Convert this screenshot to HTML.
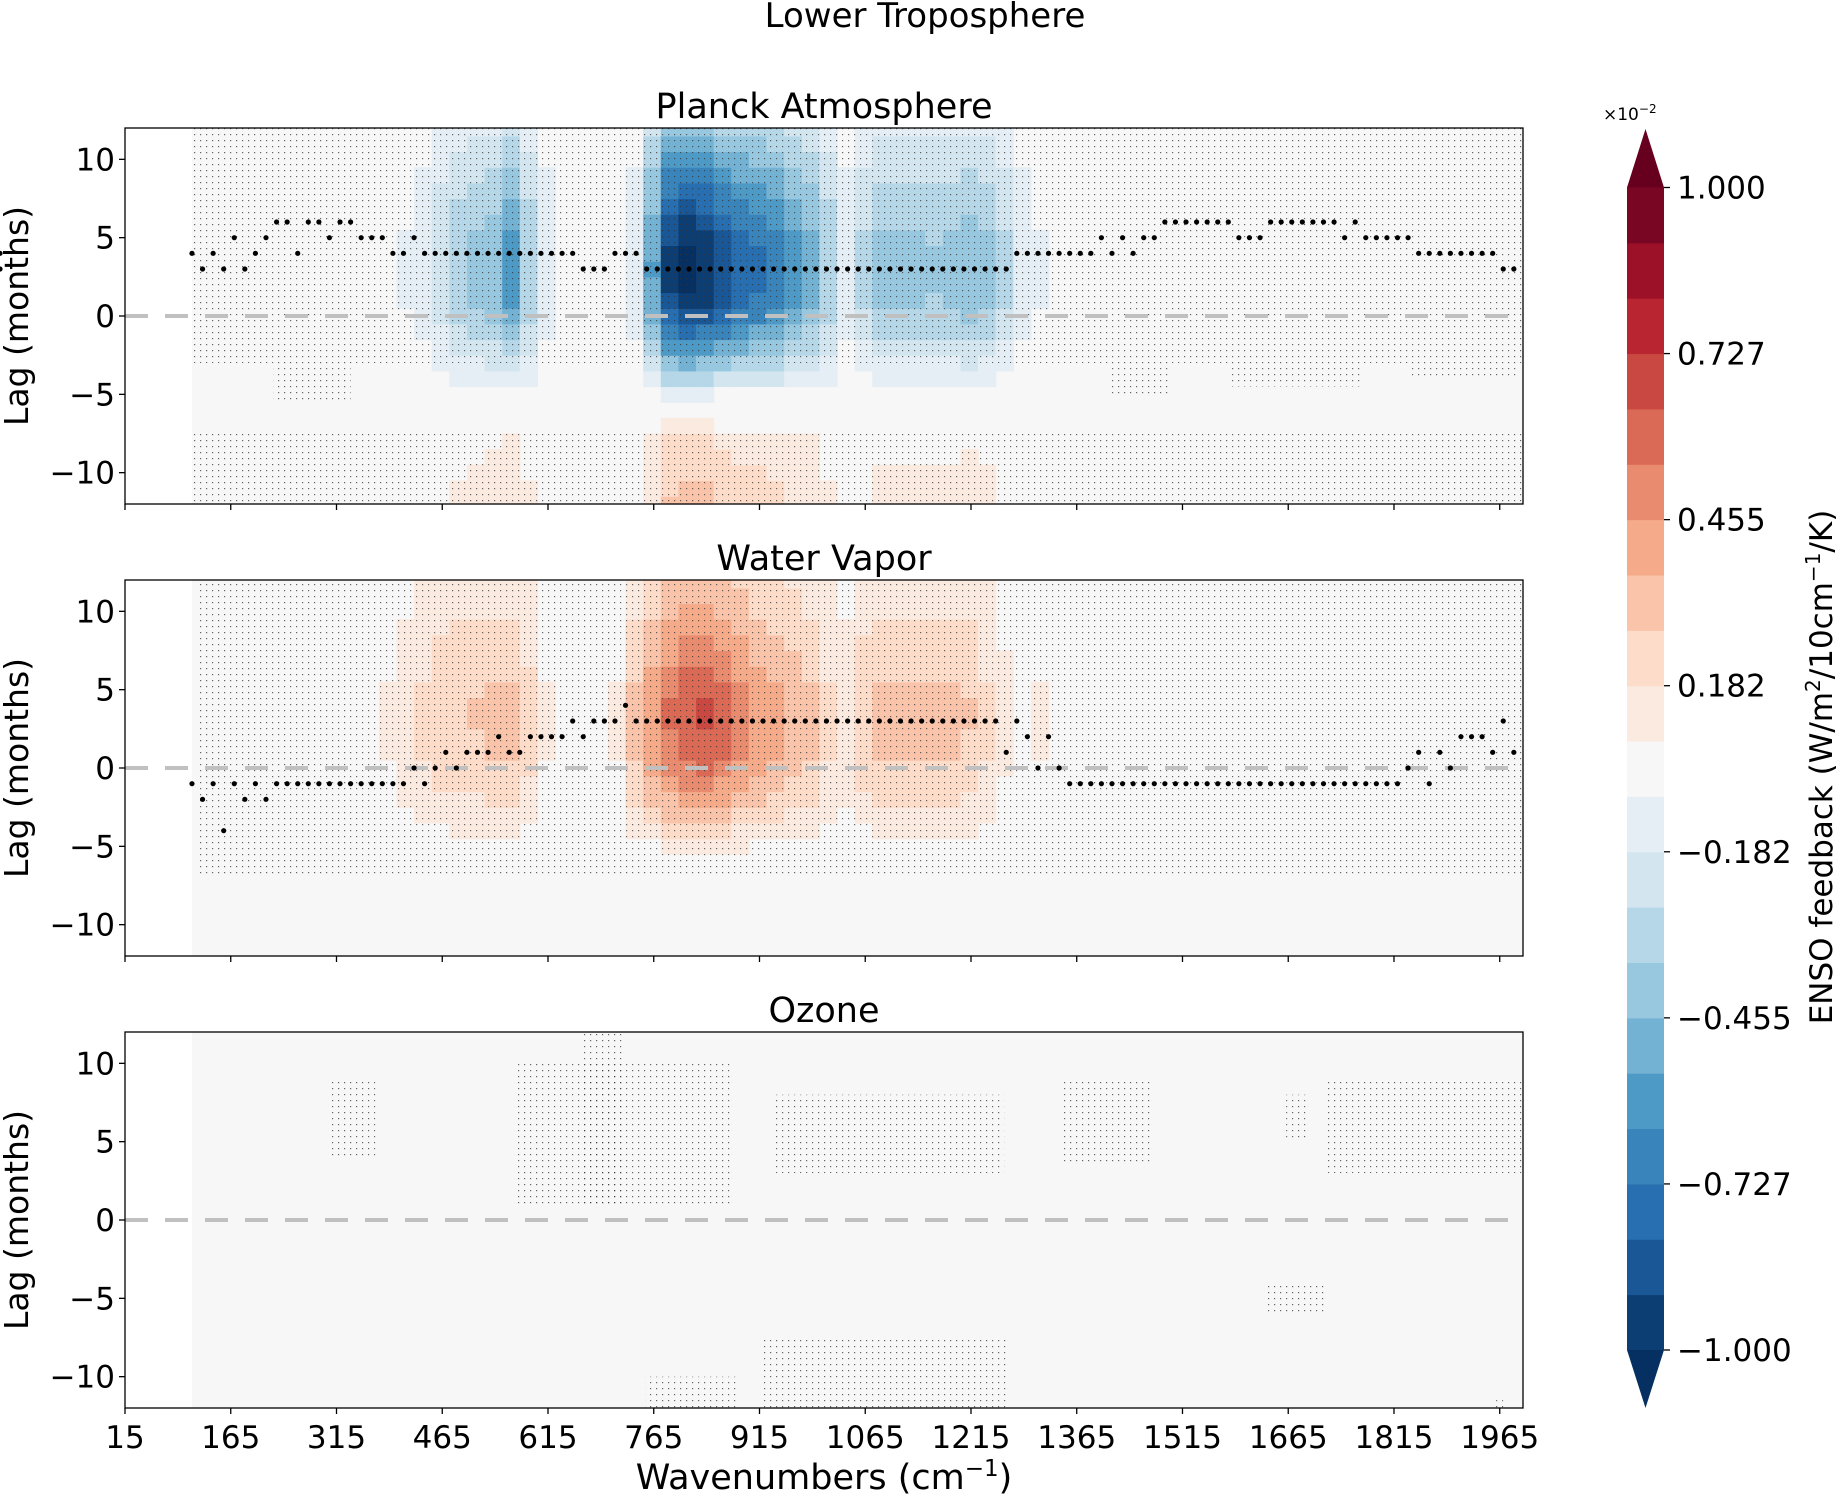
<!DOCTYPE html>
<html><head><meta charset="utf-8">
<style>
html,body{margin:0;padding:0;background:#fff;}
svg{display:block;font-family:"DejaVu Sans","Liberation Sans",sans-serif;}
</style></head>
<body>
<svg id="fig" width="1836" height="1495" viewBox="0 0 1836 1495" xmlns="http://www.w3.org/2000/svg">
<defs>
<pattern id="stip" width="6" height="6" patternUnits="userSpaceOnUse">
<rect x="2" y="2" width="1.2" height="1.2" fill="#333" opacity="0.75"/>
</pattern>
</defs>
<text x="925" y="27" font-size="34" text-anchor="middle">Lower Troposphere</text>
<g id="panels"></g>
<g id="cbar"></g>
</svg>
<script>
// ---- data ----
const specWn = [];for(let w=100;w<2000;w+=25)specWn.push(w);
const lags = [-12,-11,-10,-9,-8,-7,-6,-5,-4,-3,-2,-1,0,1,2,3,4,5,6,7,8,9,10,11,12];
const planckSpec = [0,0,0,0,0,0,0,0,0,0,0,0,-0.1,-0.15,-0.25,-0.35,-0.4,-0.45,-0.6,-0.35,-0.15,-0.05,-0.03,-0.03,-0.05,-0.15,-0.55,-0.95,-1.05,-1.0,-0.9,-0.8,-0.75,-0.7,-0.6,-0.5,-0.35,-0.15,-0.3,-0.4,-0.4,-0.4,-0.38,-0.4,-0.45,-0.4,-0.3,-0.15,-0.1,-0.05,0,0,0,0,0,0,0,0,0,0,0,0,0,0,0,0,0,0,0,0,0,0,0,0,0,0];
const planckLag = [-0.3,-0.28,-0.25,-0.22,-0.2,-0.1,0,0.1,0.3,0.45,0.6,0.72,0.85,0.92,0.97,1.0,0.98,0.95,0.88,0.8,0.75,0.68,0.6,0.5,0.4];
const wvSpec = [0,0,0,0,0,0,0,0,0,0,0.05,0.1,0.15,0.2,0.25,0.27,0.28,0.3,0.3,0.22,0.1,0.03,0.03,0.05,0.1,0.3,0.45,0.55,0.62,0.65,0.6,0.5,0.45,0.4,0.35,0.3,0.2,0.15,0.25,0.3,0.3,0.3,0.3,0.3,0.28,0.2,0.12,0.05,0.1,0.05,0,0,0,0,0,0,0,0,0,0,0,0,0,0,0,0,0,0,0,0,0,0,0,0,0,0];
const wvLag = [0,0,0,0,0,0,0.05,0.2,0.35,0.5,0.62,0.75,0.85,0.92,0.97,1.0,1.0,0.95,0.88,0.8,0.75,0.68,0.6,0.55,0.5];
const ozoneSpec = specWn.map(()=>0);
const ozoneLag = lags.map(()=>0);
const dotWn = [];for(let i=0;i<126;i++)dotWn.push(110+15*i);
const planckDots = [4,3,4,3,5,3,4,5, 6,6,4,6,6,5,6,6,5,5,5, 4,4,5,4,4,4,4,4,4,4,4,4,4,4,4,4,4,4, 3,3,3, 4,4,4,
 3,3,3,3,3,3,3,3,3,3,3,3,3,3,3,3,3,3,3,3,3,3,3,3,3,3,3,3,3,3,3,3,3,3, 3, 4,4,4,4,4,4,4,4, 5,4,5,4,5,
 5,6,6,6,6,6,6,6, 5,5,5, 6,6,6,6,6,6,6, 5,6,5, 5,5,5,5, 4,4,4,4,4,4,4,4, 3,3,3,4];
const wvDots = [-1,-2,-1,-4,-1,-2,-1,-2, -1,-1,-1,-1,-1,-1,-1,-1,-1,-1,-1,-1, -1,0,-1,0, 1,0,1,1,1,2,1, 1,2,2,2,2,3,2, 3,3,3,4,
 3,3,3,3,3,3,3,3,3,3,3,3,3,3,3,3,3,3,3,3,3,3,3,3,3,3,3,3,3,3,3,3,3,3,3, 1,3,2,0,2,0,-1,-1,
 -1,-1,-1,-1,-1,-1,-1,-1,-1,-1,-1,-1,-1,-1,-1,-1,-1,-1,-1,-1,-1,-1,-1,-1,-1,-1,-1,-1,-1,-1, 0,1,-1,1,0,2,2,2,1,3,1];
const xTicks = [15,165,315,465,615,765,915,1065,1215,1365,1515,1665,1815,1965];
const yTicks = [10,5,0,-5,-10];
const cbTicks = [1.0,0.727,0.455,0.182,-0.182,-0.455,-0.727,-1.0];

// ---- layout ----
const NS="http://www.w3.org/2000/svg";
const X0=125,X1=1523,WMIN=15,WMAX=1998,PH=376;
const xs=w=>X0+(w-WMIN)*(X1-X0)/(WMAX-WMIN);
const stops=["#053061","#2166ac","#4393c3","#92c5de","#d1e5f0","#f7f7f7","#fddbc7","#f4a582","#d6604d","#b2182b","#67001f"];
function hex(c){return [1,3,5].map(i=>parseInt(c.substr(i,2),16));}
function cmap(t){t=Math.max(0,Math.min(1,t));const p=t*10,i=Math.min(9,Math.floor(p)),f=p-i;const a=hex(stops[i]),b=hex(stops[i+1]);return "rgb("+a.map((v,k)=>Math.round(v+(b[k]-v)*f)).join(",")+")";}
const NB=21;
const bounds=[];for(let k=0;k<=10;k++)bounds.push(-1+k/11);for(let k=10;k>=0;k--)bounds.push(1-k/11);
function bandIndex(v){if(v<bounds[0])return -1;for(let k=0;k<NB;k++){if(v<bounds[k+1])return k;}return NB;}
function bandColor(v){return cmap((bandIndex(v)+0.5)/NB);}
function mk(tag,attrs,parent){const e=document.createElementNS(NS,tag);for(const k in attrs)e.setAttribute(k,attrs[k]);parent.appendChild(e);return e;}
const root=document.getElementById('panels');
const panels=[
 {title:"Planck Atmosphere",top:128,spec:planckSpec,lag:planckLag,dots:planckDots,stip:[[110,1998,12,-3],[110,1998,-7.5,-12],[225,335,-3,-5.5],[1410,1500,-3,-5],[1580,1770,-3,-4.5],[1840,1990,-3,-4]]},
 {title:"Water Vapor",top:580,spec:wvSpec,lag:wvLag,dots:wvDots,stip:[[120,1998,12,-6.8]]},
 {title:"Ozone",top:1032,spec:ozoneSpec,lag:ozoneLag,dots:null,stip:[[308,370,9,4],[570,878,10,1],[660,720,12,1],[933,1262,8,3],[1345,1473,9,3.5],[1662,1692,8,5],[1715,1998,9,3],[1633,1720,-4,-6],[753,882,-10,-12],[920,1270,-7.5,-12],[1955,1970,-11.5,-12]]}
];
panels.forEach((P,pi)=>{
 const g=mk('g',{},root);
 
 
 const ys=l=>P.top+(12-l)*PH/24;
 const bg=mk('rect',{x:xs(110),y:P.top,width:X1-xs(110),height:PH,fill:'#f7f7f7'},g);
 
 
 const cg=mk('g',{},g);
 
 
 for(let i=0;i<specWn.length;i++){
  const w0=Math.max(110,specWn[i]),w1=Math.min(WMAX,specWn[i]+25);
  if(w1<=w0)continue;
  for(let j=0;j<lags.length;j++){
   const v=P.spec[i]*P.lag[j];
   if(Math.abs(v)<1/11)continue;
   const l0=Math.max(-12,lags[j]-0.5),l1=Math.min(12,lags[j]+0.5);
   const r=mk('rect',{x:xs(w0),y:ys(l1),width:xs(w1)-xs(w0)+0.6,height:ys(l0)-ys(l1)+0.6,fill:bandColor(v)},cg);
   
   
  }
 }
 P.stip.forEach(s=>{
  const r=mk('rect',{x:xs(s[0]),y:ys(s[2]),width:xs(s[1])-xs(s[0]),height:ys(s[3])-ys(s[2]),fill:'url(#stip)'},g);
  
  
 });
 const zl=mk('line',{x1:X0,x2:X1,y1:ys(0),y2:ys(0),stroke:'#c0c0c0','stroke-width':4,'stroke-dasharray':'23,17'},g);
 
 
 if(P.dots){P.dots.forEach((d,i)=>{
  const c=mk('circle',{cx:xs(dotWn[i]),cy:ys(d),r:2.6,fill:'#000'},g);
  
  
 });}
 const fr=mk('rect',{x:X0,y:P.top,width:X1-X0,height:PH,fill:'none',stroke:'#000','stroke-width':1.3},g);
 
 
 yTicks.forEach(t=>{
  const tl=mk('line',{x1:X0-6,x2:X0,y1:ys(t),y2:ys(t),stroke:'#000','stroke-width':1.3},g);
  
  
  const tx=mk('text',{x:X0-10,y:ys(t)+11,'font-size':31,'text-anchor':'end'},g);
  tx.textContent=(t<0?'\u2212'+(-t):String(t));
  
  
 });
 xTicks.forEach(t=>{
  const tl=mk('line',{x1:xs(t),x2:xs(t),y1:P.top+PH,y2:P.top+PH+6,stroke:'#000','stroke-width':1.3},g);
  
  
  if(pi===2){
   const tx=mk('text',{x:xs(t),y:P.top+PH+40,'font-size':31,'text-anchor':'middle'},g);
   tx.textContent=String(t);
   
   
  }
 });
 const tt=mk('text',{x:(X0+X1)/2,y:P.top-10,'font-size':35,'text-anchor':'middle'},g);
 tt.textContent=P.title;
 
 
 const yl=mk('text',{x:0,y:0,'font-size':33,'text-anchor':'middle',transform:'translate(28,'+(P.top+PH/2)+') rotate(-90)'},g);
 yl.textContent='Lag (months)';
 
 
});
const xl=mk('text',{x:(X0+X1)/2,y:1489,'font-size':35,'text-anchor':'middle'},root);
xl.innerHTML='Wavenumbers (cm<tspan baseline-shift="super" font-size="23">\u22121</tspan>)';



const cb=document.getElementById('cbar');
const CX0=1627,CX1=1664,CT=187.5,CB=1350;
const BH=(CB-CT)/NB;
for(let k=0;k<NB;k++){
 const r=mk('rect',{x:CX0,y:CB-(k+1)*BH,width:CX1-CX0,height:BH+0.5,fill:cmap((k+0.5)/NB)},cb);
 
 
}
const up=mk('polygon',{points:CX0+','+CT+' '+CX1+','+CT+' '+((CX0+CX1)/2)+',129',fill:cmap(1)},cb);


const dn=mk('polygon',{points:CX0+','+CB+' '+CX1+','+CB+' '+((CX0+CX1)/2)+',1408',fill:cmap(0)},cb);


function cbPos(t){let best=0,bd=9;bounds.forEach((b,k)=>{const d=Math.abs(b-t);if(d<bd){bd=d;best=k;}});return CB-best*BH;}
cbTicks.forEach(t=>{
 const y=cbPos(t);
 const tl=mk('line',{x1:CX1,x2:CX1+6,y1:y,y2:y,stroke:'#000','stroke-width':1.3},cb);
 
 
 const tx=mk('text',{x:CX1+13,y:y+11,'font-size':31},cb);
 tx.textContent=(t<0?'\u2212':'')+Math.abs(t).toFixed(3);
 
 
});
const ex=mk('text',{x:1603,y:120,'font-size':17},cb);
ex.innerHTML='\u00d710<tspan baseline-shift="super" font-size="12">\u22122</tspan>';


const cl=mk('text',{x:0,y:0,'font-size':31,'text-anchor':'middle',transform:'translate(1832,767) rotate(-90)'},cb);
cl.innerHTML='ENSO feedback (W/m<tspan baseline-shift="super" font-size="20">2</tspan>/10cm<tspan baseline-shift="super" font-size="20">\u22121</tspan>/K)';


</script>
</body></html>
